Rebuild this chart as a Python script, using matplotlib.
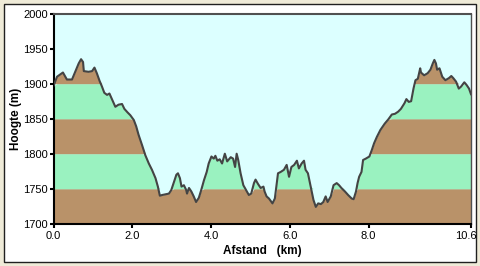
import numpy as np
import matplotlib
matplotlib.use("Agg")
import matplotlib.pyplot as plt
from matplotlib.patches import Rectangle
from matplotlib.transforms import ScaledTranslation

afstand = [0.00, 0.09, 0.24, 0.34, 0.47, 0.58, 0.64, 0.70, 0.75, 0.77,
           0.89, 0.98, 1.04, 1.10, 1.17, 1.23, 1.29, 1.36, 1.42, 1.49,
           1.57, 1.65, 1.74, 1.80, 1.88, 1.95, 2.04, 2.10, 2.16, 2.25,
           2.33, 2.42, 2.50, 2.59, 2.65, 2.70, 2.76, 2.84, 2.93, 2.99,
           3.05, 3.12, 3.16, 3.21, 3.25, 3.31, 3.37, 3.39, 3.44, 3.50,
           3.56, 3.62, 3.69, 3.75, 3.82, 3.89, 3.94, 4.01, 4.07, 4.11,
           4.16, 4.22, 4.28, 4.35, 4.41, 4.50, 4.56, 4.61, 4.65, 4.69,
           4.75, 4.82, 4.88, 4.96, 5.02, 5.09, 5.13, 5.19, 5.26, 5.33,
           5.36, 5.41, 5.47, 5.56, 5.62, 5.67, 5.70, 5.77, 5.85, 5.92,
           5.98, 6.04, 6.11, 6.18, 6.23, 6.30, 6.36, 6.40, 6.46, 6.53,
           6.60, 6.66, 6.72, 6.79, 6.85, 6.91, 6.96, 7.04, 7.11, 7.19,
           7.25, 7.31, 7.40, 7.48, 7.57, 7.62, 7.68, 7.72, 7.76, 7.82,
           7.86, 7.93, 8.02, 8.08, 8.14, 8.21, 8.30, 8.36, 8.41, 8.50,
           8.59, 8.67, 8.75, 8.82, 8.91, 8.96, 9.02, 9.08, 9.14, 9.19,
           9.25, 9.31, 9.33, 9.41, 9.50, 9.57, 9.63, 9.67, 9.71, 9.74,
           9.80, 9.87, 9.95, 10.04, 10.10, 10.15, 10.22, 10.29, 10.35, 10.43,
           10.49, 10.55, 10.60]
hoogte = [1897, 1910, 1916, 1906, 1906, 1921, 1929, 1935, 1931, 1918,
          1917, 1918, 1923, 1915, 1904, 1896, 1887, 1884, 1886, 1877,
          1867, 1870, 1871, 1864, 1859, 1855, 1848, 1839, 1827, 1812,
          1798, 1786, 1777, 1765, 1753, 1740, 1741, 1742, 1743, 1748,
          1758, 1770, 1772, 1765, 1753, 1755, 1748, 1743, 1751, 1746,
          1739, 1731, 1737, 1748, 1762, 1774, 1786, 1796, 1793, 1797,
          1790, 1792, 1786, 1800, 1789, 1795, 1793, 1781, 1800, 1791,
          1772, 1755, 1749, 1741, 1743, 1758, 1763, 1757, 1751, 1753,
          1746, 1739, 1736, 1729, 1736, 1758, 1772, 1774, 1777, 1784,
          1767, 1781, 1784, 1790, 1779, 1786, 1790, 1777, 1772, 1753,
          1734, 1724, 1729, 1728, 1731, 1739, 1731, 1739, 1755, 1758,
          1755, 1751, 1746, 1741, 1736, 1735, 1746, 1758, 1767, 1774,
          1791, 1793, 1796, 1805, 1815, 1824, 1834, 1839, 1843, 1849,
          1856, 1857, 1860, 1864, 1872, 1878, 1874, 1875, 1893, 1905,
          1907, 1922, 1916, 1912, 1915, 1920, 1929, 1934, 1929, 1920,
          1922, 1910, 1905, 1908, 1911, 1908, 1903, 1893, 1896, 1902,
          1898, 1893, 1885]

x_ticks = [0.0, 2.0, 4.0, 6.0, 8.0, 10.6]
y_ticks = [1700, 1750, 1800, 1850, 1900, 1950, 2000]

bruin = "#B99269"
groen = "#9AF2C0"
lucht = "#DCFFFF"

x = np.array(afstand)
y = np.array(hoogte, dtype=float)

fig = plt.figure(figsize=(4.8, 2.66), dpi=100)
fig.patch.set_facecolor("#EFEBD8")
fig.patches.append(Rectangle((3.5 / 480, 4 / 266), 472.5 / 480, 258.5 / 266,
                             transform=fig.transFigure, facecolor="white",
                             edgecolor="#202020", linewidth=1, zorder=-10))

ax = fig.add_axes([53.5 / 480, 1 - 223.7 / 266, 417.5 / 480, 210 / 266])
ax.set_facecolor(lucht)

# banden van 50 m, afwisselend bruin en groen, onder het profiel
for i, lo in enumerate(range(1700, 2000, 50)):
    hi = lo + 50
    kleur = bruin if i % 2 == 0 else groen
    top = np.clip(y, lo, hi)
    ax.fill_between(x, lo, top, color=kleur, linewidth=0, zorder=1)

ax.plot(x, y, color="#444444", linewidth=1.5, zorder=3)

ax.set_xlim(0, 10.6)
ax.set_ylim(1700, 2000)
ax.set_xticks(x_ticks)
ax.set_xticklabels(["%.1f" % t for t in x_ticks])
ax.set_yticks(y_ticks)

fnt = "Liberation Sans"
for lbl in ax.get_xticklabels() + ax.get_yticklabels():
    lbl.set_fontfamily(fnt)
    lbl.set_fontsize(8)
ax.tick_params(direction="out", length=3, width=1.5, color="black")
ax.tick_params(axis="y", pad=1)
ax.tick_params(axis="x", pad=2)

# laatste label iets naar links, zoals in het origineel
last = ax.get_xticklabels()[-1]
last.set_transform(last.get_transform() +
                   ScaledTranslation(-5 / 100, 0, fig.dpi_scale_trans))

ax.set_xlabel("Afstand   (km)", fontfamily=fnt, fontsize=8.5,
              fontweight="bold", labelpad=3)
ax.set_ylabel("Hoogte (m)", fontfamily=fnt, fontsize=8.5,
              fontweight="bold", labelpad=1)

for s in ["left", "bottom"]:
    ax.spines[s].set_linewidth(1.5)
    ax.spines[s].set_color("black")
ax.spines["top"].set_linewidth(1.5)
ax.spines["top"].set_color("#505050")
ax.spines["right"].set_linewidth(1.0)
ax.spines["right"].set_color("#505050")

fig.savefig("out.png", dpi=100, facecolor=fig.get_facecolor())
